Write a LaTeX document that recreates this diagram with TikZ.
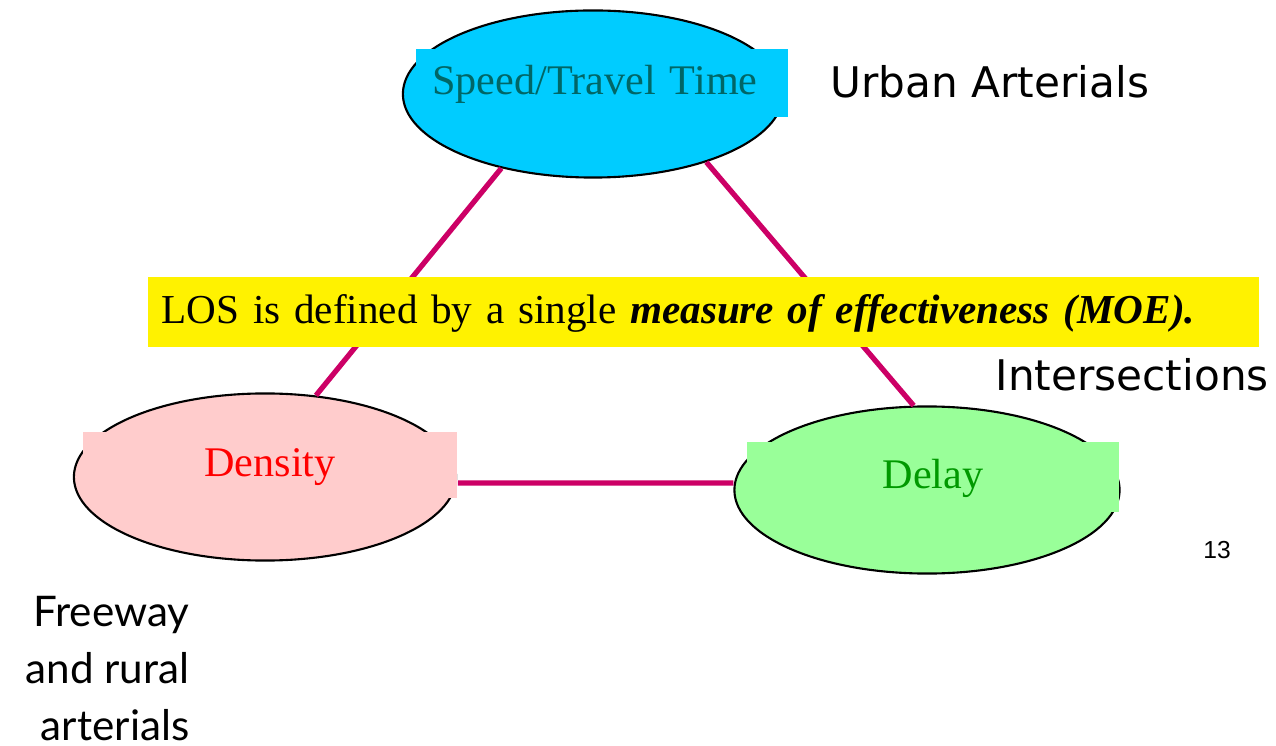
\documentclass[tikz,border=0pt]{standalone}
\usepackage{fontspec}
\setmainfont{Liberation Serif}
\newfontfamily\tahoma{DejaVu Sans}
\newfontfamily\gill{Lato}
\newfontfamily\arial{Liberation Sans}
\usetikzlibrary{positioning,shapes.geometric}

\definecolor{spdcyan}{HTML}{00CCFF}
\definecolor{denspink}{HTML}{FFCCCC}
\definecolor{delaygreen}{HTML}{99FF99}
\definecolor{spdtext}{HTML}{006666}
\definecolor{delaytext}{HTML}{009900}
\definecolor{linkred}{HTML}{CC0066}

\begin{document}
\begin{tikzpicture}[
    x=0.01cm, y=-0.01cm,
    every node/.style={font=\fontsize{12}{14}\selectfont},
    moe/.style={draw, ellipse, line width=0.6pt, minimum width=3.82cm, minimum height=1.67cm, inner sep=0pt},
    tag/.style={rectangle, inner sep=0pt, minimum height=0.68cm, text height=0.66em, text depth=0pt},
    link/.style={line width=1.5pt, draw=linkred},
    side/.style={font=\tahoma\fontsize{12}{14}\selectfont, anchor=base west, inner sep=0pt},
]
\useasboundingbox (0,0) rectangle (1276,746);

% MOE ellipses
\node[moe, fill=spdcyan, minimum width=3.80cm] (speed) at (593,94) {};
\node[moe, fill=denspink] (density) at (265,477) {};
\node[moe, fill=delaygreen, minimum width=3.85cm] (delay) at (927,490) {};

% links from the top ellipse
\draw[link] (speed.219) -- (density.58);
\draw[link] (speed.329) -- (delay.99);

% coloured text boxes laid over the ellipses
\node[tag, fill=spdcyan, text=spdtext, text width=3.39cm, align=left, inner xsep=0.16cm] (spdbox) at (602,83) {Speed/Travel Time};
\node[tag, fill=denspink, text=red, minimum width=3.74cm, minimum height=0.66cm] (densbox) at (270,465) {Density};
\node[tag, fill=delaygreen, text=delaytext, minimum width=3.71cm, minimum height=0.69cm] (delaybox) at (933,477) {Delay};

% bottom link
\draw[link] ([yshift=-0.18cm]densbox.east) -- ([yshift=0.07cm]delay.west);

% highlighted statement
\node[tag, fill=yellow, font=\fontsize{11.7}{14}\selectfont, minimum height=0.70cm, text width=10.83cm, align=left, inner xsep=0.14cm] (los) at (703.5,312)
    {LOS is defined by a single \textbf{\textit{measure of effectiveness (MOE).}}};

% facility types
\node[side] (urban) at (830,98) {Urban Arterials};
\node[side] (inter) at (995,391) {Intersections};
\node[font=\gill\fontsize{12}{16.2}\selectfont, align=right, anchor=north east, inner sep=0pt] (freeway) at (190,596) {Freeway\\and rural\\arterials};

% slide number
\node[font=\arial\fontsize{7}{8}\selectfont] (pagenum) at (1217,550) {13};

\end{tikzpicture}
\end{document}
